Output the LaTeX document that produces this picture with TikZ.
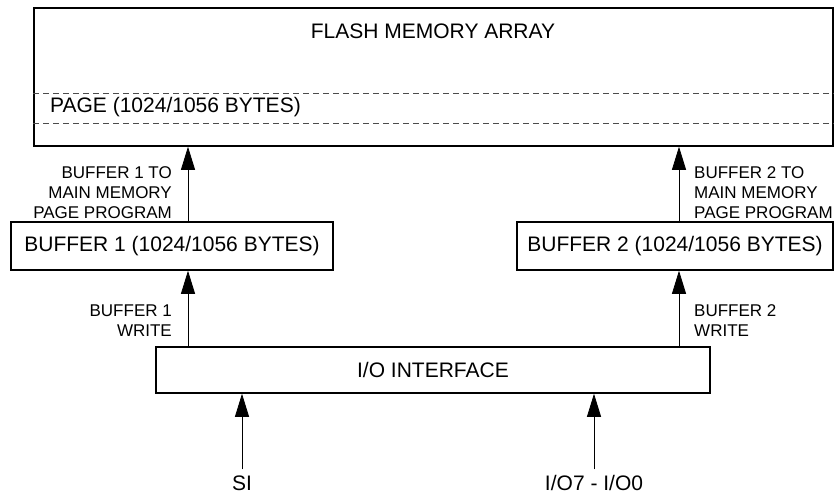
\documentclass[tikz,border=0pt]{standalone}
\usepackage{fontspec}
\setmainfont{Liberation Sans}
\usetikzlibrary{arrows.meta}
\begin{document}
\begin{tikzpicture}[x=1pt,y=-1pt,
  box/.style={draw, line width=1.5pt, inner sep=0pt, font=\fontsize{21}{25}\selectfont},
  big/.style={inner sep=0pt, font=\fontsize{21}{25}\selectfont},
  small/.style={inner sep=0pt, font=\fontsize{17}{20}\selectfont},
  arr/.style={line width=0.8pt, -{Triangle[length=23pt,width=14pt]}},
  pagedash/.style={line width=0.7pt, draw=black!70, dash pattern=on 6pt off 4pt},
  pin/.style={big, text height=15pt, text depth=0pt, inner ysep=1pt}]
\useasboundingbox (0,0) rectangle (835,495);
% boxes
\node[box, minimum width=799pt, minimum height=138pt] (flash) at (433.5,77) {};
\node[big] (flashlbl) at (433,31) {FLASH MEMORY ARRAY};
\node[big, anchor=west] (page) at (50,107.5) {PAGE (1024/1056 BYTES)};
\draw[pagedash] (flash.west |- 0,93) coordinate (d1a) -- (flash.east |- 0,93) coordinate (d1b);
\draw[pagedash] (flash.west |- 0,123) coordinate (d2a) -- (flash.east |- 0,123) coordinate (d2b);
\node[box, minimum width=322pt, minimum height=48pt] (buf1) at (172,246) {BUFFER 1 (1024/1056 BYTES)};
\node[box, minimum width=316pt, minimum height=48pt] (buf2) at (675,246) {BUFFER 2 (1024/1056 BYTES)};
\node[box, minimum width=554pt, minimum height=46pt] (io) at (433,370) {I/O INTERFACE};
% labels
\node[small, anchor=east, align=right] (l1) at (172,192.5) {BUFFER 1 TO\\MAIN MEMORY\\PAGE PROGRAM};
\node[small, anchor=west, align=left] (l2) at (694,192.5) {BUFFER 2 TO\\MAIN MEMORY\\PAGE PROGRAM};
\node[small, anchor=east, align=right] (w1) at (172,321) {BUFFER 1\\WRITE};
\node[small, anchor=west, align=left] (w2) at (694,321) {BUFFER 2\\WRITE};
\node[pin] (si) at (242,482.5) {SI};
\node[pin] (iop) at (594,482.5) {I/O7 - I/O0};
% arrows
\draw[arr] ([xshift=16pt]buf1.north) -- ([xshift=16pt]buf1.north |- flash.south);
\draw[arr] ([xshift=4pt]buf2.north) -- ([xshift=4pt]buf2.north |- flash.south);
\draw[arr] ([xshift=16pt]buf1.south |- io.north) -- ([xshift=16pt]buf1.south);
\draw[arr] ([xshift=4pt]buf2.south |- io.north) -- ([xshift=4pt]buf2.south);
\draw[arr] ([yshift=4.5pt]si.north) -- (si.north |- io.south);
\draw[arr] ([yshift=4.5pt]iop.north) -- (iop.north |- io.south);
\end{tikzpicture}
\end{document}
